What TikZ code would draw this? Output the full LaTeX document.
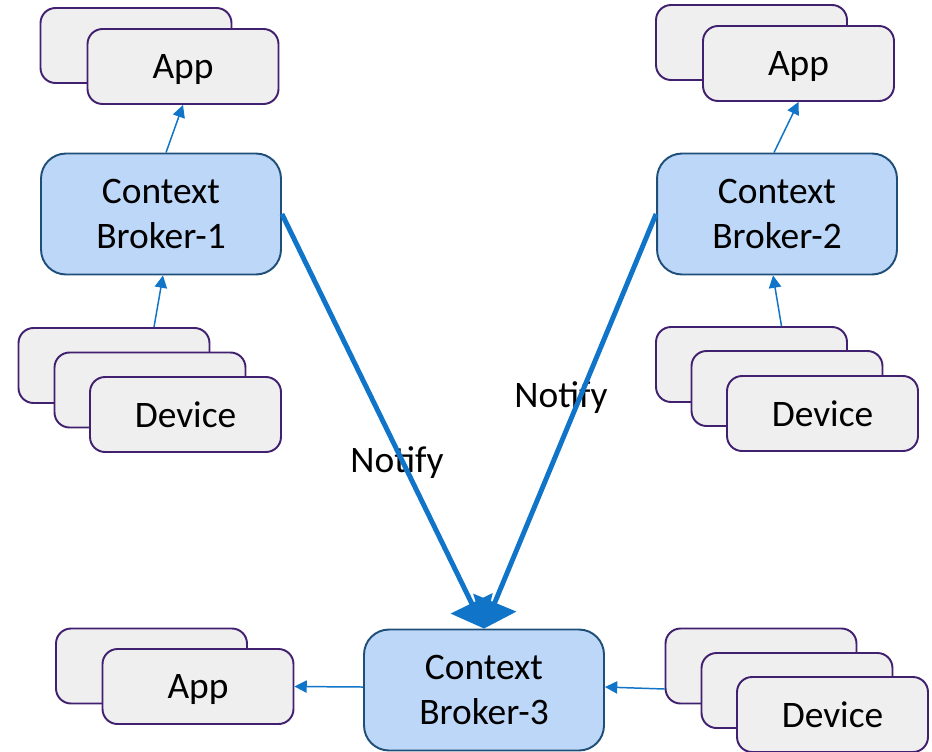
\documentclass[tikz,border=0pt]{standalone}
\usepackage{fontspec}
\setmainfont{Carlito}
\usepackage{tikz}
\usetikzlibrary{positioning, arrows.meta}

\definecolor{brokerfill}{RGB}{189,215,248}
\definecolor{brokerline}{RGB}{31,78,121}
\definecolor{boxfill}{RGB}{239,239,239}
\definecolor{boxline}{RGB}{66,32,112}
\definecolor{linkblue}{RGB}{16,117,200}

\begin{document}
\begin{tikzpicture}[x=0.02cm, y=-0.02cm, every node/.style={font=\fontsize{21.3}{25.5}\selectfont}
    , broker/.style={draw=brokerline, fill=brokerfill, line width=1.1pt, rounded corners=0.5cm,
        minimum width=4.8cm, minimum height=2.42cm, align=center, inner sep=0pt,
        execute at begin node={\rule{0pt}{17.5pt}}}
    , box/.style={draw=boxline, fill=boxfill, line width=1.1pt, rounded corners=0.3cm,
        minimum width=3.82cm, minimum height=1.5cm, inner sep=0pt, text depth=0pt}
    , link/.style={draw=linkblue, line width=0.85pt, -{Triangle[length=7pt,width=7pt]}}
    , notify/.style={draw=linkblue, line width=2.8pt, -{Triangle[length=16pt,width=26pt]}}
    ]

    \useasboundingbox (0,0) rectangle (932,751);

    % brokers
    \node[broker] (b1) at (161,214) {Context\\Broker-1};
    \node[broker] (b2) at (777,214) {Context\\Broker-2};
    \node[broker] (b3) at (484,690) {Context\\Broker-3};

    % apps
    \node[box] (app1a) at (136,45.5) {};
    \node[box] (app1b) at (183,66.5) {App};
    \node[box] (app2a) at (751.5,42.5) {};
    \node[box] (app2b) at (798.5,63.5) {App};
    \node[box] (app3a) at (151.5,666) {};
    \node[box] (app3b) at (198,686.5) {App};

    % devices
    \node[box] (dev1a) at (114,365.5) {};
    \node[box] (dev1b) at (150,390) {};
    \node[box] (dev1c) at (185.5,414.5) {Device};
    \node[box] (dev2a) at (751.5,364.5) {};
    \node[box] (dev2b) at (787,388.5) {};
    \node[box] (dev2c) at (822.5,413.5) {Device};
    \node[box] (dev3a) at (761,666) {};
    \node[box] (dev3b) at (797,690.5) {};
    \node[box] (dev3c) at (832.5,714.5) {Device};

    % links to apps and from devices
    \draw[link] ([xshift=0.1cm]b1.north) -- (app1b.south);
    \draw[link] ([xshift=0.8cm]dev1a.north) -- ([xshift=0.04cm]b1.south);
    \draw[link] ([xshift=-0.06cm]b2.north) -- (app2b.south);
    \draw[link] ([xshift=0.6cm]dev2a.north) -- ([xshift=-0.08cm]b2.south);
    \draw[link] ([yshift=0.06cm]b3.west) -- ([yshift=0.0cm]app3b.east);
    \draw[link] ([yshift=-0.46cm]dev3a.west) -- ([yshift=0.06cm]b3.east);

    % notifications into broker 3
    \node (n1) at (397,463) {Notify};
    \node (n2) at (561,398) {Notify};
    \draw[notify] (b1.east) -- (b3.north);
    \draw[notify] (b2.west) -- (b3.north);

\end{tikzpicture}
\end{document}
